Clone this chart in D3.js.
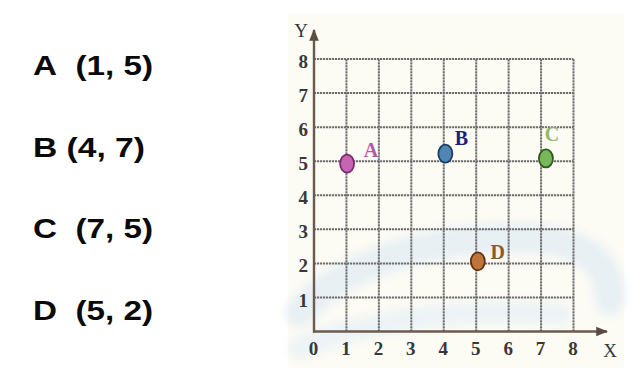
<!DOCTYPE html>
<html>
<head>
<meta charset="utf-8">
<script src="https://cdn.jsdelivr.net/npm/d3@7"></script>
<style>
  html, body { margin: 0; padding: 0; background: #ffffff; }
  svg { display: block; }
</style>
</head>
<body>
<svg id="chart" width="641" height="381"></svg>
<script>
// Coordinate listing shown on the left
const listNames = ["A", "B", "C", "D"];
const listCoords = ["(1, 5)", "(4, 7)", "(7, 5)", "(5, 2)"];

// Plotted points on the grid
const pointNames = ["A", "B", "C", "D"];
const pointX = [1.02, 4.05, 7.15, 5.05];
const pointY = [4.93, 5.22, 5.08, 2.06];

// Axis ticks
const xTicks = [0, 1, 2, 3, 4, 5, 6, 7, 8];
const yTicks = [1, 2, 3, 4, 5, 6, 7, 8];
const gridValues = [1, 2, 3, 4, 5, 6, 7, 8];

// Styling per point
const pointStyle = {
  A: { fill: "#c565b4", stroke: "#7a2a6c", label: "#b35aa6", dx: 24, dy: -7 },
  B: { fill: "#4f86b3", stroke: "#1d3d62", label: "#1c1f7e", dx: 16, dy: -9 },
  C: { fill: "#79b85a", stroke: "#2e5a22", label: "#93b866", dx: 6,  dy: -17 },
  D: { fill: "#c0763a", stroke: "#5e3214", label: "#8a5a2a", dx: 20, dy: -2 }
};

const svg = d3.select("#chart");
const defs = svg.append("defs");

const x = d3.scaleLinear().domain([0, 8]).range([314, 573.5]);
const y = d3.scaleLinear().domain([0, 8]).range([331.5, 59]);

// warm paper background behind the grid
svg.append("rect")
  .attr("x", 288).attr("y", 14).attr("width", 336).attr("height", 354)
  .attr("fill", "#fcfbf4");

// faint, soft blue swash in the lower half
defs.append("filter").attr("id", "soft")
  .attr("x", "-20%").attr("y", "-40%").attr("width", "140%").attr("height", "180%")
  .append("feGaussianBlur").attr("stdDeviation", 5);
const swash = svg.append("g").attr("fill", "none").attr("stroke-linecap", "round")
  .attr("filter", "url(#soft)");
swash.append("path")
  .attr("d", "M300,312 C345,262 430,238 520,238 C585,240 610,262 610,300")
  .attr("stroke", "#dde9f5").attr("stroke-width", 30).attr("opacity", 0.65);
swash.append("path")
  .attr("d", "M300,348 C360,322 470,306 560,314")
  .attr("stroke", "#e2edf7").attr("stroke-width", 22).attr("opacity", 0.6);

// left-hand coordinate list
const list = svg.append("g")
  .attr("font-family", "Liberation Sans, Arial, sans-serif")
  .attr("font-weight", "bold")
  .attr("font-size", 28)
  .attr("fill", "#0a0a0a");
const listY = d3.scalePoint().domain(listNames).range([75, 320]);
listNames.forEach((n, i) => {
  const gap = n === "B" ? " " : "\u00a0\u00a0";
  list.append("text")
    .attr("x", 33)
    .attr("y", listY(n))
    .attr("textLength", n === "B" ? 112 : 120)
    .attr("lengthAdjust", "spacingAndGlyphs")
    .text(n + gap + listCoords[i]);
});

// grid
const grid = svg.append("g")
  .attr("stroke", "#6e6e6e")
  .attr("stroke-width", 2)
  .attr("stroke-dasharray", "2.2,0.8");
grid.selectAll("line.v").data(gridValues).join("line")
  .attr("class", "v")
  .attr("x1", d => x(d)).attr("x2", d => x(d))
  .attr("y1", y(0)).attr("y2", y(8));
grid.selectAll("line.h").data(gridValues).join("line")
  .attr("class", "h")
  .attr("x1", x(0)).attr("x2", x(8))
  .attr("y1", d => y(d)).attr("y2", d => y(d));

// tick labels via d3 axes
const tickFont = "Liberation Serif, Times New Roman, serif";
const xAxis = svg.append("g")
  .attr("transform", `translate(0,${y(0)})`)
  .call(d3.axisBottom(x).tickValues(xTicks).tickSize(0).tickPadding(10).tickFormat(d3.format("d")));
const yAxis = svg.append("g")
  .attr("transform", `translate(${x(0)},0)`)
  .call(d3.axisLeft(y).tickValues(yTicks).tickSize(0).tickPadding(6).tickFormat(d3.format("d")));
[xAxis, yAxis].forEach(g => {
  g.select(".domain").remove();
  g.selectAll("text")
    .attr("font-family", tickFont)
    .attr("font-weight", "bold")
    .attr("font-size", 19)
    .attr("fill", "#383838");
});
xAxis.selectAll("text").attr("dx", -1);
yAxis.selectAll("text").attr("dy", "0.45em");

// axis lines with arrows
defs.append("marker")
  .attr("id", "arrow")
  .attr("viewBox", "0 0 10 10")
  .attr("refX", 9).attr("refY", 5)
  .attr("markerWidth", 5).attr("markerHeight", 5)
  .attr("orient", "auto")
  .append("path").attr("d", "M0,1 L10,5 L0,9 Z").attr("fill", "#5a4c44");

svg.append("line")
  .attr("x1", x(0)).attr("y1", y(0) + 1)
  .attr("x2", x(0)).attr("y2", 30)
  .attr("stroke", "#6b5a50").attr("stroke-width", 2.4)
  .attr("marker-end", "url(#arrow)");
svg.append("line")
  .attr("x1", x(0) - 1).attr("y1", y(0))
  .attr("x2", 607).attr("y2", y(0))
  .attr("stroke", "#6b5a50").attr("stroke-width", 2.4)
  .attr("marker-end", "url(#arrow)");

// axis names
svg.append("text").attr("x", 301).attr("y", 37)
  .attr("text-anchor", "middle")
  .attr("font-family", tickFont).attr("font-size", 19).attr("fill", "#383838")
  .text("Y");
svg.append("text").attr("x", 610).attr("y", 357)
  .attr("text-anchor", "middle")
  .attr("font-family", tickFont).attr("font-size", 19).attr("fill", "#383838")
  .text("X");

// points
const pts = pointNames.map((n, i) => ({ name: n, x: pointX[i], y: pointY[i] }));
svg.append("g").selectAll("ellipse").data(pts).join("ellipse")
  .attr("cx", d => x(d.x)).attr("cy", d => y(d.y))
  .attr("rx", 7).attr("ry", 9)
  .attr("fill", d => pointStyle[d.name].fill)
  .attr("stroke", d => pointStyle[d.name].stroke)
  .attr("stroke-width", 1.8);

svg.append("g").selectAll("text").data(pts).join("text")
  .attr("x", d => x(d.x) + pointStyle[d.name].dx)
  .attr("y", d => y(d.y) + pointStyle[d.name].dy)
  .attr("text-anchor", "middle")
  .attr("font-family", tickFont)
  .attr("font-weight", "bold")
  .attr("font-size", 20)
  .attr("fill", d => pointStyle[d.name].label)
  .text(d => d.name);
</script>
</body>
</html>
